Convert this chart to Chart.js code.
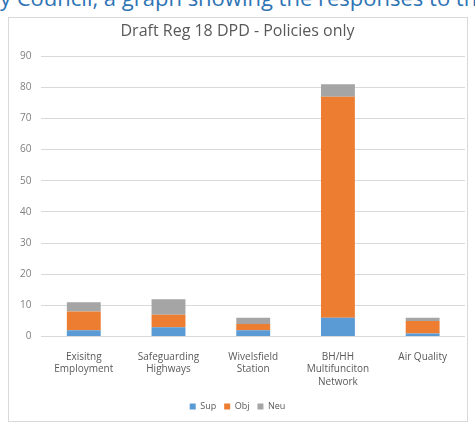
<!DOCTYPE html>
<html>
<head>
<meta charset="utf-8">
<script src="https://cdn.jsdelivr.net/npm/chart.js@4"></script>
<style>
  body { margin: 0; background: #fff; width: 475px; height: 426px; overflow: hidden; position: relative; }
  #doc-line { position: absolute; left: 0; top: -18px; font: 22px "Open Sans", sans-serif; color: #2e74b5; white-space: nowrap; }
  #frame { position: absolute; left: 8px; top: 17px; width: 458px; height: 403px; border: 1px solid #d9d9d9; }
</style>
</head>
<body>
<div id="doc-line">y Council, a graph showing the responses to the policies</div>
<div id="frame"><canvas id="chart"></canvas></div>
<script>
const categories = [
  ["Exisitng", "Employment"],
  ["Safeguarding", "Highways"],
  ["Wivelsfield", "Station"],
  ["BH/HH", "Multifunciton", "Network"],
  ["Air Quality"]
];
const supValues = [2, 3, 2, 6, 1];
const objValues = [6, 4, 2, 71, 4];
const neuValues = [3, 5, 2, 4, 1];
const yTicks = [0, 10, 20, 30, 40, 50, 60, 70, 80, 90];

const font = "'Open Sans', sans-serif";
const chartCanvas = document.getElementById("chart");
chartCanvas.width = 458;
chartCanvas.height = 403;

new Chart(chartCanvas, {
  type: "bar",
  data: {
    labels: categories,
    datasets: [
      { label: "Sup", data: supValues, backgroundColor: "#5b9bd5" },
      { label: "Obj", data: objValues, backgroundColor: "#ed7d31" },
      { label: "Neu", data: neuValues, backgroundColor: "#a5a5a5" }
    ]
  },
  options: {
    responsive: false,
    animation: false,
    devicePixelRatio: 1,
    datasets: { bar: { categoryPercentage: 1, barPercentage: 0.4 } },
    layout: { padding: { left: 1, right: 2, top: 4, bottom: 0 } },
    plugins: {
      title: {
        display: true,
        text: "Draft Reg 18 DPD - Policies only",
        color: "#595959",
        font: { family: font, size: 16, weight: "normal" },
        padding: { top: 0, bottom: 15 }
      },
      legend: {
        position: "bottom",
        labels: {
          color: "#595959",
          font: { family: font, size: 9 },
          boxWidth: 6,
          boxHeight: 6,
          padding: 8
        }
      },
      tooltip: { enabled: false }
    },
    scales: {
      x: {
        stacked: true,
        grid: { display: false },
        border: { display: false },
        ticks: { color: "#595959", font: { family: font, size: 10, lineHeight: 1.25 }, maxRotation: 0, padding: 6 }
      },
      y: {
        stacked: true,
        min: 0,
        max: 90,
        afterBuildTicks: axis => { axis.ticks = yTicks.map(v => ({ value: v })); },
        grid: { color: "#d9d9d9", drawTicks: false },
        border: { display: false },
        ticks: { color: "#7f7f7f", font: { family: font, size: 10 }, padding: 10 }
      }
    }
  }
});
</script>
</body>
</html>
